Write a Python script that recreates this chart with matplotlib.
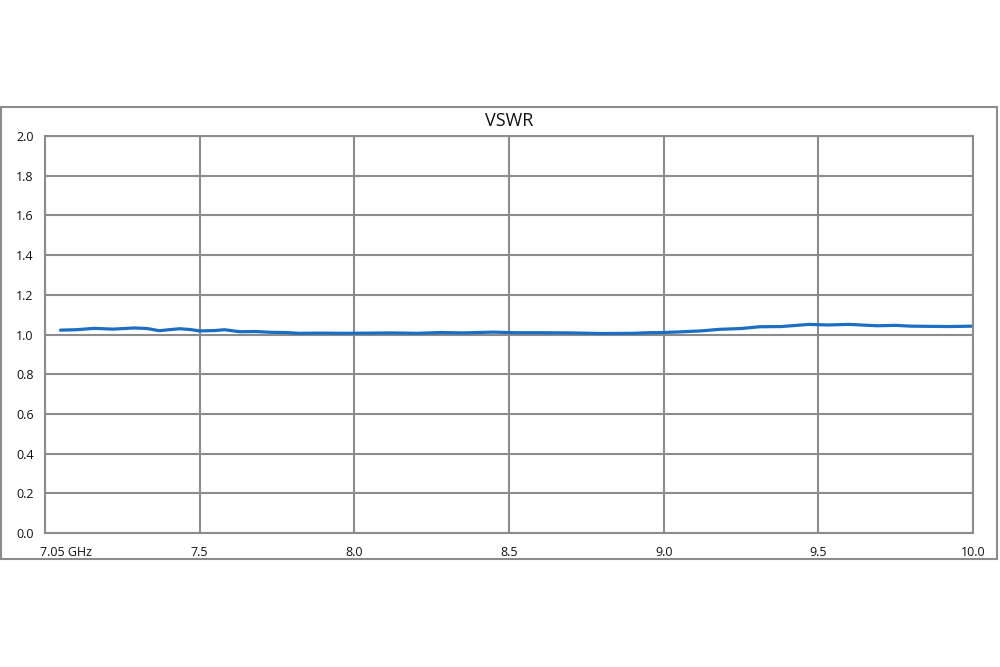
import matplotlib
matplotlib.use("Agg")
import matplotlib.pyplot as plt
from matplotlib.patches import Rectangle
from matplotlib.transforms import ScaledTranslation

plt.rcParams['font.family'] = ['Open Sans', 'DejaVu Sans']

# Frequency (GHz, on the chart's evenly spaced axis) and VSWR values
freq = [7.05, 7.10, 7.16, 7.22, 7.29, 7.33, 7.37, 7.40, 7.435, 7.47, 7.50, 7.55,
        7.58, 7.63, 7.68, 7.73, 7.78, 7.82, 7.90, 7.97, 8.05, 8.12, 8.20, 8.28,
        8.35, 8.45, 8.52, 8.60, 8.70, 8.80, 8.90, 8.95, 9.00, 9.05, 9.12, 9.18,
        9.25, 9.31, 9.38, 9.43, 9.47, 9.53, 9.60, 9.65, 9.69, 9.75, 9.80, 9.86,
        9.92, 10.0]
vswr = [1.022, 1.024, 1.031, 1.027, 1.033, 1.030, 1.019, 1.024, 1.029, 1.025, 1.018, 1.020,
        1.024, 1.014, 1.015, 1.011, 1.010, 1.006, 1.007, 1.006, 1.007, 1.008, 1.006, 1.010,
        1.008, 1.012, 1.009, 1.009, 1.008, 1.005, 1.006, 1.009, 1.010, 1.013, 1.018, 1.026,
        1.030, 1.039, 1.040, 1.046, 1.051, 1.048, 1.051, 1.047, 1.044, 1.046, 1.042, 1.041,
        1.040, 1.042]

x_ticks = [7.0, 7.5, 8.0, 8.5, 9.0, 9.5, 10.0]
x_labels = ['7.05 GHz', '7.5', '8.0', '8.5', '9.0', '9.5', '10.0']
y_ticks = [0.0, 0.2, 0.4, 0.6, 0.8, 1.0, 1.2, 1.4, 1.6, 1.8, 2.0]

fig = plt.figure(figsize=(10, 6.67), dpi=100)
W, H = 1000, 667

# outer chart frame
fig.patches.append(Rectangle((1 / W, 1 - 559 / H), 996 / W, (559 - 107) / H,
                             transform=fig.transFigure, fill=False,
                             edgecolor='#8c8c8c', linewidth=1.5))

ax = fig.add_axes([45 / W, 1 - 533 / H, 928 / W, (533 - 136) / H])
ax.plot(freq, vswr, color='#1b6ec2', linewidth=2.3, solid_capstyle='round')

ax.set_xlim(7.0, 10.0)
ax.set_ylim(0, 2.0)
ax.set_xticks(x_ticks)
ax.set_xticklabels(x_labels)
ax.set_yticks(y_ticks)
ax.set_yticklabels([f'{v:.1f}' for v in y_ticks])
ax.grid(True, color='#8c8c8c', linewidth=1.5)
ax.set_axisbelow(True)
for s in ax.spines.values():
    s.set_color('#8c8c8c')
    s.set_linewidth(1.5)
ax.tick_params(length=0, labelsize=9, colors='#111111', pad=9)
ax.tick_params(axis='y', pad=8)

first = ax.get_xticklabels()[0]
first.set_horizontalalignment('left')
first.set_transform(first.get_transform() + ScaledTranslation(-5 / 100, 0, fig.dpi_scale_trans))

fig.text(509 / W, 1 - 121 / H, 'VSWR', ha='center', va='center', fontsize=13, color='#111111')

fig.savefig('out.png', dpi=100, facecolor='white')
